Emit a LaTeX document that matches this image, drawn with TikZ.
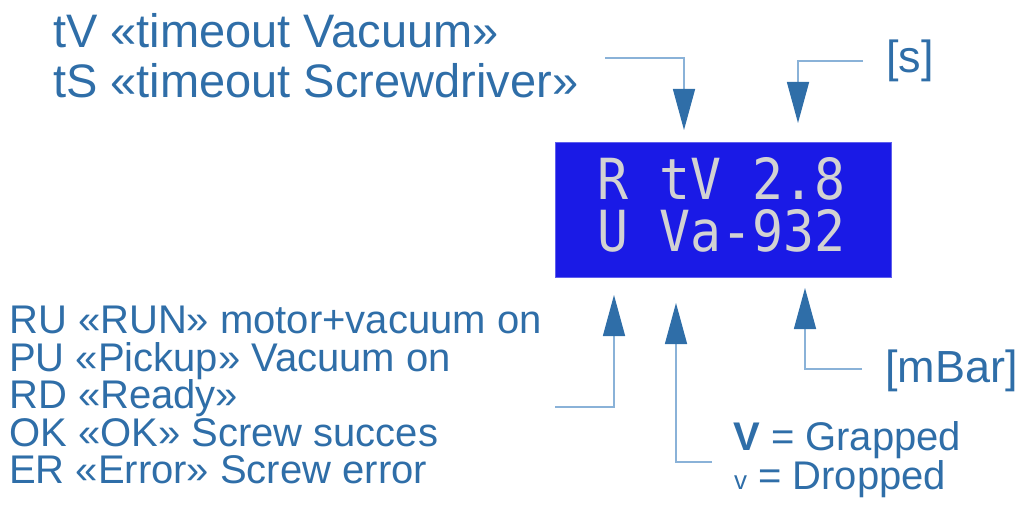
\documentclass[tikz,border=0pt]{standalone}
\usepackage{fontspec}
\setmainfont{Liberation Sans}
\newfontfamily\lcdfont{DejaVu Sans Mono}
\usetikzlibrary{arrows.meta,positioning,calc}
\definecolor{Ink}{HTML}{2F6EA8}
\definecolor{Wire}{HTML}{8AB2D8}
\definecolor{Screen}{HTML}{1A1AE6}
\definecolor{Pixel}{HTML}{D2D2D2}

\begin{document}
\begin{tikzpicture}[x=1pt,y=-1pt,
    lbl/.style={anchor=base west,inner sep=0pt,text=Ink,font=\fontsize{40}{40}\selectfont},
    big/.style={lbl,font=\fontsize{47}{47}\selectfont},
    lcd/.style={anchor=base west,inner sep=0pt,text=Pixel,font=\lcdfont\fontsize{51.5}{51.5}\selectfont,yscale=1.1,transform shape},
    a/.style={draw=Wire,line width=1.5pt,-{Triangle[length=41pt,width=22pt,color=Ink]}}]
    \useasboundingbox (0,0) rectangle (1026,511);
    % display
    \node[draw=Screen!70!white,fill=Screen,minimum width=336pt,minimum height=135pt,inner sep=0pt,anchor=north west] (disp) at (555,142) {};
    \node[lcd] (row1) at (597,199) {R tV 2.8};
    \node[lcd] (row2) at (597,251) {U Va-932};
    % labels
    \node[big] (tv) at (53,48) {tV «timeout Vacuum»};
    \node[big] (ts) at (53,97) {tS «timeout Screwdriver»};
    \node[big,font=\fontsize{45}{45}\selectfont] (sec) at (886,73) {[s]};
    \node[big,font=\fontsize{45}{45}\selectfont] (mbar) at (885,382) {[mBar]};
    \node[lbl] (ru) at (9,333) {RU «RUN» motor+vacuum on};
    \node[lbl] (pu) at (9,371) {PU «Pickup» Vacuum on};
    \node[lbl] (rd) at (9,408) {RD «Ready»};
    \node[lbl] (ok) at (9,446) {OK «OK» Screw succes};
    \node[lbl] (er) at (9,483) {ER «Error» Screw error};
    \node[lbl] (grab) at (733,450) {\textbf{V} = Grapped};
    \node[lbl] (drop) at (734,489) {{\fontsize{26}{26}\selectfont v}\ = Dropped};
    % connectors
    \coordinate (c1) at (605,58);   \coordinate (t1) at (684,130);
    \coordinate (c2) at (863,61);   \coordinate (t2) at (798,123);
    \coordinate (c3) at (555,407);  \coordinate (t3) at (614,295);
    \coordinate (c4) at (712,462);  \coordinate (t4) at (676,303);
    \coordinate (c5) at (862,369);  \coordinate (t5) at (805,288);
    \draw[a] (c1) -| (t1);
    \draw[a] (c2) -| (t2);
    \draw[a] (c3) -| (t3);
    \draw[a] (c4) -| (t4);
    \draw[a] (c5) -| (t5);
\end{tikzpicture}
\end{document}
